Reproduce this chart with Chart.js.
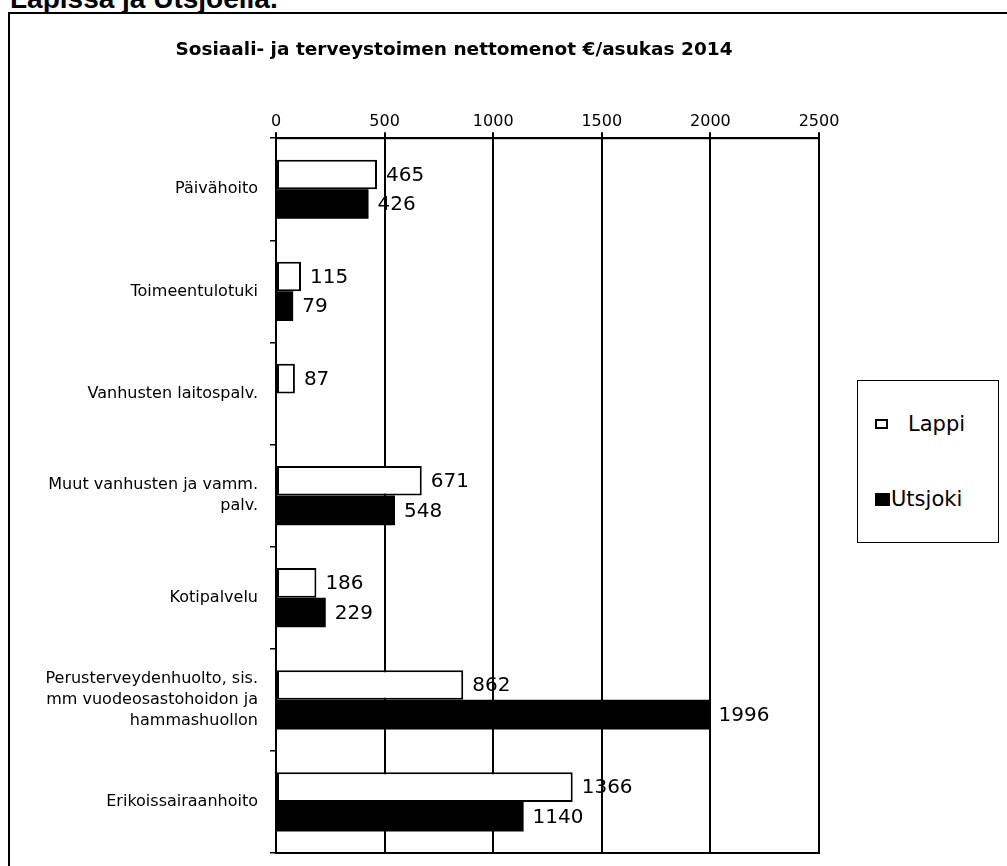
<!DOCTYPE html>
<html>
<head>
<meta charset="utf-8">
<script src="https://cdn.jsdelivr.net/npm/chart.js@4.4.0/dist/chart.umd.min.js"></script>
<style>
body { margin: 0; width: 1007px; height: 866px; overflow: hidden; background: #fff; position: relative; }
#heading { position: absolute; left: 10px; top: -15px; font: bold 28px/27px "Liberation Sans", Arial, sans-serif; white-space: nowrap; color: #000; }
#frame { position: absolute; left: 8px; top: 12px; width: 1100px; height: 1000px; border: 2px solid #000; box-sizing: border-box; }
#chart_box { position: absolute; left: 9px; top: 13px; width: 890px; height: 853px; }
#legend { position: absolute; left: 857px; top: 380px; width: 142px; height: 163px; border: 1.5px solid #000; box-sizing: border-box; background: #fff; font: 21px "DejaVu Sans", sans-serif; color: #000; }
.legend_item { position: absolute; left: 17px; display: flex; align-items: center; white-space: nowrap; }
.swatch { width: 13px; height: 10px; border: 2px solid #000; box-sizing: border-box; }
</style>
</head>
<body>
<div id="heading">Lapissa ja Utsjoella.</div>
<div id="frame"></div>
<div id="chart_box"><canvas id="chart_canvas"></canvas></div>
<div id="legend"></div>
<script>
const chart_title = "Sosiaali- ja terveystoimen nettomenot €/asukas 2014"
const categories = [
    ["Päivähoito"],
    ["Toimeentulotuki"],
    ["Vanhusten laitospalv."],
    ["Muut vanhusten ja vamm.", "palv."],
    ["Kotipalvelu"],
    ["Perusterveydenhuolto, sis.", "mm vuodeosastohoidon ja", "hammashuollon"],
    ["Erikoissairaanhoito"]
]
const series_names = ["Lappi", "Utsjoki"]
const lappi_values = [465, 115, 87, 671, 186, 862, 1366]
const utsjoki_values = [426, 79, 0, 548, 229, 1996, 1140]
const x_ticks = [0, 500, 1000, 1500, 2000, 2500]

const canvas = document.getElementById("chart_canvas")
const legend_div = document.getElementById("legend")

// numbers next to the bar ends
const value_labels = {
    id: "value_labels",
    afterDatasetsDraw(chart) {
        const c = chart.ctx
        c.save()
        c.font = '20px "DejaVu Sans"'
        c.fillStyle = "#000"
        c.textBaseline = "middle"
        c.textAlign = "left"
        chart.data.datasets.forEach((ds, i) => {
            chart.getDatasetMeta(i).data.forEach((bar, j) => {
                if (ds.data[j] > 0) c.fillText(String(ds.data[j]), bar.x + 9, bar.y + 1)
            })
        })
        c.restore()
    }
}

// box round the plot area
const plot_frame = {
    id: "plot_frame",
    beforeDatasetsDraw(chart) {
        const a = chart.chartArea
        const c = chart.ctx
        c.save()
        c.strokeStyle = "#000"
        c.lineWidth = 2
        c.strokeRect(a.left, a.top, a.right - a.left, a.bottom - a.top)
        c.restore()
    }
}

let chart = new Chart(canvas, {
    type: "bar",
    data: {
        labels: categories,
        datasets: [
            {
                label: series_names[0],
                data: lappi_values,
                backgroundColor: "#fff",
                borderColor: "#000",
                borderWidth: 2,
                borderSkipped: false
            },
            {
                label: series_names[1],
                data: utsjoki_values,
                backgroundColor: "#000",
                borderColor: "#000",
                borderWidth: 0
            }
        ]
    },
    options: {
        indexAxis: "y",
        responsive: true,
        maintainAspectRatio: false,
        animation: false,
        datasets: {
            bar: { categoryPercentage: 0.58, barPercentage: 1.0 }
        },
        layout: { padding: { left: 0, right: 0, top: 0, bottom: 13 } },
        plugins: {
            legend: { display: false },
            tooltip: { enabled: false },
            title: {
                display: true,
                text: chart_title,
                color: "#000",
                font: { family: "DejaVu Sans", size: 18.5, weight: "bold" },
                padding: { top: 26, bottom: 47 }
            }
        },
        scales: {
            x: {
                position: "top",
                min: 0,
                max: 2500,
                afterBuildTicks(axis) {
                    axis.ticks = x_ticks.map(v => ({ value: v }))
                },
                afterFit(axis) { axis.height = 30 },
                ticks: {
                    color: "#000",
                    font: { family: "DejaVu Sans", size: 16 },
                    padding: 1,
                    callback: v => String(v)
                },
                grid: { color: "#000", lineWidth: 2, tickLength: 6 },
                border: { color: "#000", width: 2 }
            },
            y: {
                afterFit(axis) {
                    axis.width = 267
                    // the offset categories never overflow, so no extra room above/below
                    axis.paddingTop = 0
                    axis.paddingBottom = 0
                },
                ticks: {
                    color: "#000",
                    font: { family: "DejaVu Sans", size: 16, lineHeight: 1.3 },
                    padding: 12
                },
                grid: { drawOnChartArea: false, color: "#000", lineWidth: 1.5, tickLength: 6, offset: true },
                border: { color: "#000", width: 2 }
            },
            // empty space right of the plot, keeps the title where it is in the original
            spacer: {
                type: "category",
                position: "right",
                afterFit(axis) {
                    axis.width = 80
                    axis.paddingTop = 0
                    axis.paddingBottom = 0
                },
                ticks: { display: false },
                grid: { display: false },
                border: { display: false }
            }
        }
    },
    plugins: [value_labels, plot_frame]
})

// legend box on the right, built from the datasets
const legend_tops = [425, 500]
chart.data.datasets.forEach((ds, i) => {
    const item = document.createElement("div")
    item.className = "legend_item"
    item.style.top = (legend_tops[i] - 380 - 14) + "px"
    const sw = document.createElement("div")
    sw.className = "swatch"
    sw.style.background = ds.backgroundColor
    if (i == 1) { sw.style.width = "15px"; sw.style.height = "13px"; sw.style.marginRight = "1px" }
    else { sw.style.marginRight = "20px" }
    const txt = document.createElement("span")
    txt.textContent = ds.label
    item.appendChild(sw)
    item.appendChild(txt)
    legend_div.appendChild(item)
})
</script>
</body>
</html>
